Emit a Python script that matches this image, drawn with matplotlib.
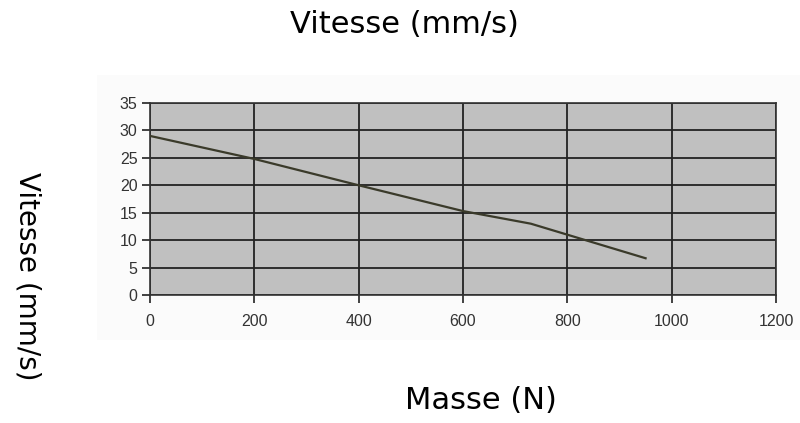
import matplotlib
matplotlib.use("Agg")
from matplotlib import pyplot as plt
from matplotlib.patches import Rectangle

# data
masse = [0, 200, 400, 600, 730, 950]
vitesse = [29, 24.8, 20, 15.3, 13, 6.7]
xticks = [0, 200, 400, 600, 800, 1000, 1200]
yticks = [0, 5, 10, 15, 20, 25, 30, 35]

fig = plt.figure(figsize=(8, 4.23), dpi=100)

# faint chart-area box behind the plot
fig.patches.append(Rectangle((0.121, 0.196), 0.879, 0.626, transform=fig.transFigure,
                             facecolor="#fbfbfb", edgecolor="none", zorder=-1))

ax = fig.add_axes([0.1875, 0.3026, 0.7825, 0.4539])
ax.set_zorder(2)
ax.set_facecolor("#c0c0c0")
ax.plot(masse, vitesse, color="#3a3a2a", linewidth=1.6, zorder=3)

ax.set_xlim(0, 1200)
ax.set_ylim(0, 35)
ax.set_xticks(xticks)
ax.set_yticks(yticks)
ax.grid(True, color="#222222", linewidth=1.3)
ax.tick_params(labelsize=11.5, length=6, width=1.2, color="#222222", labelcolor="#333333")
ax.tick_params(axis="x", pad=8)
ax.tick_params(axis="y", pad=3)
for label in ax.get_xticklabels() + ax.get_yticklabels():
    label.set_family("Liberation Sans")
for s in ax.spines.values():
    s.set_color("#333333")
    s.set_linewidth(1.2)

fig.text(0.505, 0.943, "Vitesse (mm/s)", ha="center", va="center", fontsize=22)
fig.text(0.034, 0.347, "Vitesse (mm/s)", ha="center", va="center", fontsize=20, rotation=-90)
fig.text(0.601, 0.054, "Masse (N)", ha="center", va="center", fontsize=22)

fig.savefig("out.png", dpi=100)
